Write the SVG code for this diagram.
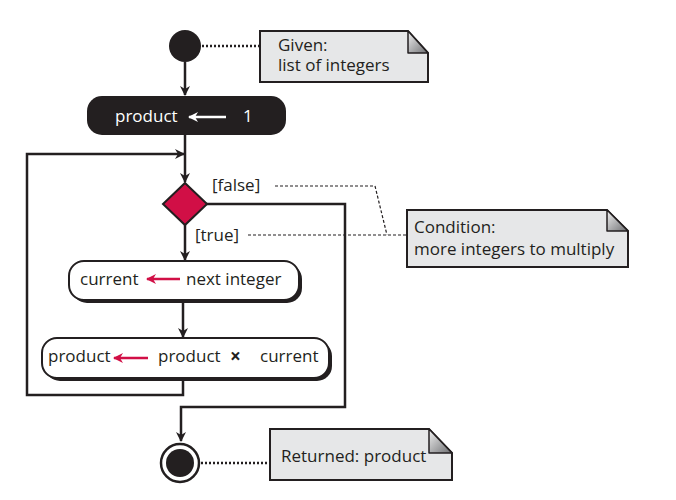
<svg xmlns="http://www.w3.org/2000/svg" width="676" height="500" viewBox="0 0 676 500">
<style>
text{font-family:"Open Sans","Noto Sans","Liberation Sans",sans-serif;font-size:17px;fill:#231f20}
.w{fill:#fff}
.line{fill:none;stroke:#231f20;stroke-width:2.5}
.dot{fill:none;stroke:#231f20;stroke-width:2.5;stroke-dasharray:2 2}
.dash{fill:none;stroke:#231f20;stroke-width:1.2;stroke-dasharray:3 2}
.note{fill:#e6e7e8;stroke:#231f20;stroke-width:2}
.box{fill:#fff;stroke:#231f20;stroke-width:2}
.red{fill:none;stroke:#d10f46;stroke-width:2.5}
</style>
<defs>
<marker id="ah" viewBox="0 0 10 10" refX="9" refY="5" markerWidth="4" markerHeight="4" orient="auto" markerUnits="strokeWidth">
<path d="M0,0 L10,5 L0,10 L3,5 z" fill="#231f20"/>
</marker>
<marker id="ahr" viewBox="0 0 10 10" refX="9" refY="5" markerWidth="4" markerHeight="4" orient="auto" markerUnits="strokeWidth">
<path d="M0,0 L10,5 L0,10 L3,5 z" fill="#d10f46"/>
</marker>
<marker id="ahw" viewBox="0 0 10 10" refX="9" refY="5" markerWidth="4" markerHeight="4" orient="auto" markerUnits="strokeWidth">
<path d="M0,0 L10,5 L0,10 L3,5 z" fill="#fff"/>
</marker>
<linearGradient id="fold" x1="0" y1="0" x2="1" y2="1">
<stop offset="0" stop-color="#f2f2f2"/><stop offset="1" stop-color="#6d6e71"/>
</linearGradient>
</defs>

<g id="connectors">
<line class="line" x1="185" y1="62" x2="185" y2="95" marker-end="url(#ah)"/>
<line class="line" x1="185" y1="135" x2="185" y2="182" marker-end="url(#ah)"/>
<polyline class="line" points="183,378 183,395 27,395 27,154 184,154" marker-end="url(#ah)"/>
<line class="line" x1="185" y1="225" x2="185" y2="260" marker-end="url(#ah)"/>
<line class="line" x1="183" y1="300" x2="183" y2="337" marker-end="url(#ah)"/>
<polyline class="line" points="206,204 345,204 345,407 181,407 181,441" marker-end="url(#ah)"/>
<line class="dot" x1="202" y1="46" x2="259" y2="46"/>
<line class="dot" x1="201" y1="463" x2="270" y2="463"/>
<polyline class="dash" points="275,186 375,186 387,235"/>
<line class="dash" x1="248" y1="235" x2="407" y2="235"/>
<text x="212" y="191">[false]</text>
<text x="195" y="241">[true]</text>
</g>

<g id="start">
<circle cx="185" cy="46" r="16" fill="#231f20"/>
</g>

<g id="note-given">
<path class="note" d="M260,31 H408 L428,53 V82 H260 Z"/>
<path d="M408,31 V53 H428 Z" fill="url(#fold)" stroke="#231f20" stroke-width="1.5" stroke-linejoin="round"/>
<text x="278" y="51">Given:</text>
<text x="278" y="71">list of integers</text>
</g>

<g id="init">
<rect x="87" y="96" width="199" height="39" rx="15" fill="#231f20"/>
<text class="w" x="115" y="122">product</text>
<line stroke="#fff" stroke-width="2.5" x1="226" y1="117" x2="189" y2="117" marker-end="url(#ahw)"/>
<text class="w" x="243" y="122">1</text>
</g>

<g id="decision">
<path d="M185,183 L207,204 L185,225 L163,204 Z" fill="#d10f46" stroke="#231f20" stroke-width="2"/>
</g>

<g id="note-condition">
<path class="note" d="M407,210 H607 L628,231 V267 H407 Z"/>
<path d="M607,210 V231 H628 Z" fill="url(#fold)" stroke="#231f20" stroke-width="1.5" stroke-linejoin="round"/>
<text x="414" y="233">Condition:</text>
<text x="414" y="255">more integers to multiply</text>
</g>

<g id="current">
<rect x="72" y="264" width="230" height="39" rx="15" fill="#231f20"/>
<rect class="box" x="69" y="261" width="230" height="39" rx="15"/>
<text x="80" y="285">current</text>
<line class="red" x1="180" y1="279" x2="147" y2="279" marker-end="url(#ahr)"/>
<text x="186" y="285">next integer</text>
</g>

<g id="product">
<rect x="45" y="341" width="287" height="40" rx="15" fill="#231f20"/>
<rect class="box" x="42" y="338" width="287" height="40" rx="15"/>
<text x="48" y="362">product</text>
<line class="red" x1="148" y1="358" x2="114" y2="358" marker-end="url(#ahr)"/>
<text x="158" y="362">product</text>
<text x="230" y="363" style="font-weight:bold;font-size:19px">×</text>
<text x="260" y="362">current</text>
</g>

<g id="end">
<circle cx="180" cy="463" r="19" fill="#fff" stroke="#231f20" stroke-width="2.5"/>
<circle cx="180" cy="463" r="14" fill="#231f20"/>
</g>

<g id="note-returned">
<path class="note" d="M270,429 H429 L452,453 V480 H270 Z"/>
<path d="M429,429 V453 H452 Z" fill="url(#fold)" stroke="#231f20" stroke-width="1.5" stroke-linejoin="round"/>
<text x="281" y="462">Returned: product</text>
</g>
</svg>
